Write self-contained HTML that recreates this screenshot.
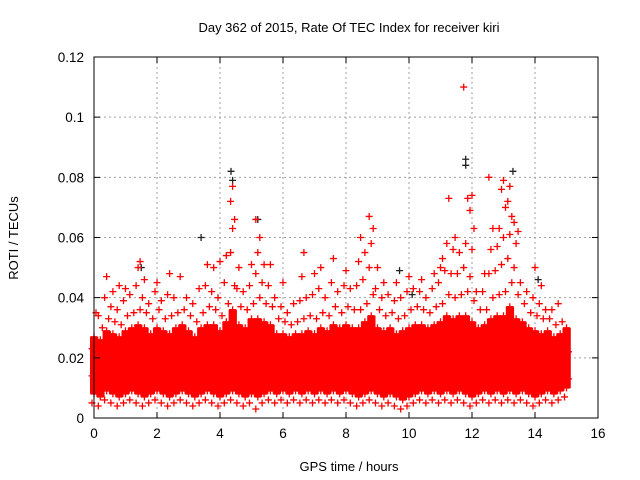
<!DOCTYPE html>
<html><head><meta charset="utf-8"><style>
html,body{margin:0;padding:0;background:#fff}
svg{display:block;font-family:"Liberation Sans",sans-serif}
</style></head><body>
<svg id="chart" width="640" height="480" viewBox="0 0 640 480">
<text x="349" y="32" font-size="13" text-anchor="middle">Day 362 of 2015, Rate Of TEC Index for receiver kiri</text>
<text x="349" y="471" font-size="13" text-anchor="middle">GPS time / hours</text>
<text transform="translate(18,238) rotate(-90)" font-size="13" text-anchor="middle">ROTI / TECUs</text>
<g id="grid"></g><g id="marks"></g><g id="axes"></g>
</svg>
<script>
const binTimes=[0,0.2,0.4,0.6,0.8,1.0,1.2,1.4,1.6,1.8,2.0,2.2,2.4,2.6,2.8,3.0,3.2,3.4,3.6,3.8,4.0,4.2,4.4,4.6,4.8,5.0,5.2,5.4,5.6,5.8,6.0,6.2,6.4,6.6,6.8,7.0,7.2,7.4,7.6,7.8,8.0,8.2,8.4,8.6,8.8,9.0,9.2,9.4,9.6,9.8,10.0,10.2,10.4,10.6,10.8,11.0,11.2,11.4,11.6,11.8,12.0,12.2,12.4,12.6,12.8,13.0,13.2,13.4,13.6,13.8,14.0,14.2,14.4,14.6,14.8,15.0];
const rotiMilli=[
[5,8,11,14,17,20,23,27,35],[4,7,10,13,16,19,22,26,30,34],[6,9,12,15,18,21,25,29,33,40,47],[5,8,11,14,17,20,24,28,32,37,42],
[4,7,10,13,16,19,23,27,31,36,44],[5,8,11,14,17,21,25,29,34,39,43],[6,9,12,15,18,22,26,30,35,41],[5,8,11,14,18,22,26,31,36,44,50,52],
[4,7,10,13,17,21,25,30,35,40,46],[5,8,11,14,17,20,24,28,33,38],[6,9,12,15,18,22,26,30,36,42,45],[5,8,11,14,17,21,25,29,33,39],
[4,7,10,13,16,20,24,28,34,41,48],[5,8,11,14,17,21,25,30,35,40],[6,9,12,15,18,22,26,31,36,47],[5,8,11,14,17,21,25,29,34,40],
[4,7,10,13,16,19,23,27,32,38],[5,8,11,14,17,21,25,30,35,43],[6,9,12,15,18,22,26,31,37,44,51],[5,8,11,14,17,21,26,31,36,42,50],
[4,7,10,13,16,20,24,29,34,40,52],[5,8,11,14,18,22,27,32,38,45,54],[6,9,12,16,20,25,30,36,44,55,63,66,72,77],[5,8,11,14,18,22,26,31,37,43,50],
[4,7,10,13,17,21,25,30,36,42],[5,8,11,15,19,23,28,33,38,44,51],[3,7,10,14,18,22,27,33,40,48,55,60,66],[5,8,11,14,18,22,27,32,38,45,51],
[6,9,12,15,18,22,26,31,37,44,51],[5,8,11,14,17,20,24,28,33,40],[6,9,12,15,18,21,24,28,32,37,45],[5,8,11,14,17,20,23,27,31,35],
[6,9,12,15,18,21,24,28,32,38],[5,8,11,14,17,20,24,28,33,39,47,55],[6,9,12,15,18,21,25,29,34,40],[5,8,11,14,17,20,24,28,33,41,48],
[6,9,12,15,18,22,26,30,35,43,50],[5,8,11,14,17,21,25,29,34,40],[6,9,12,15,18,22,26,31,37,45,53],[5,8,11,14,17,21,25,30,35,42],
[6,9,12,15,18,22,26,31,37,44,49],[5,8,11,14,17,21,25,30,36,43],[4,7,10,13,17,21,25,30,36,44,52,60],[5,8,11,14,18,22,27,32,38,46,55],
[6,9,12,15,19,23,28,34,41,50,58,63,67],[5,8,11,14,17,21,25,30,36,43,50],[4,7,10,13,16,20,24,29,34,40,45],[5,8,11,14,17,21,25,30,35,41],
[4,7,10,13,16,20,24,28,33,39,45],[3,6,9,12,16,20,24,29,34,40],[4,7,10,13,17,21,25,30,36,42,47],[5,8,11,14,18,22,26,31,37,43],
[6,9,12,15,18,22,26,31,36,42,46],[5,8,11,14,17,21,25,30,35,40],[6,9,12,15,18,22,26,31,37,43,48],[5,8,11,14,18,22,27,32,38,45,50,53],
[6,9,12,15,19,23,28,34,41,49,58,73],[5,8,11,14,18,22,27,33,40,48,56,60],[6,9,12,15,19,23,28,34,41,48,55],[5,8,11,14,18,23,28,34,42,50,58,73,110],
[4,7,10,13,17,21,26,32,39,47,56,63,69,74],[5,8,11,14,17,21,25,30,36,42],[6,9,12,15,18,22,26,31,36,42,48],[5,8,11,14,18,22,27,33,40,48,56,63,80],
[6,9,12,15,19,23,28,34,41,49,57,63],[5,8,11,14,18,23,28,34,42,51,60,70,76,79],[6,9,12,15,19,24,30,37,45,53,61,67,72,77],[5,8,11,14,18,22,27,33,41,50,58,62,65],
[6,9,12,15,18,22,27,32,38,45],[5,8,11,14,17,21,25,30,35,42],[4,7,10,13,16,20,24,29,34,40,50],[5,8,11,14,17,20,24,28,33,38,44],
[6,9,12,15,18,21,25,29,33,36],[5,8,11,14,17,20,23,27,31,36],[6,9,12,15,18,21,24,28,32,38],[7,10,13,16,19,22,26,30]
];
const blackTimes=[3.4,4.35,4.4,5.2,9.7,10.1,11.8,11.8,13.3,14.1,0.05,1.5];
const blackRoti=[0.060,0.082,0.079,0.066,0.049,0.041,0.086,0.084,0.082,0.046,0.021,0.050];
const xTicks=[0,2,4,6,8,10,12,14,16];
const yTicks=[0,0.02,0.04,0.06,0.08,0.1,0.12];
const yTickLabels=["0","0.02","0.04","0.06","0.08","0.1","0.12"];

const L=94,R=598,T=57,B=418;
const xs=v=>L+(v-0)/16*(R-L);
const ys=v=>B-(v/0.12)*(B-T);
const NS="http://www.w3.org/2000/svg";
function mk(tag,attrs,parent){const e=document.createElementNS(NS,tag);for(const k in attrs)e.setAttribute(k,attrs[k]);parent.appendChild(e);return e;}
const grid=document.getElementById('grid'),marks=document.getElementById('marks'),axes=document.getElementById('axes');

xTicks.forEach((t,i)=>{
  const x=xs(t);
  if(t>0&&t<16){const g=mk('line',{x1:x,y1:T,x2:x,y2:B,stroke:'#a0a0a0','stroke-dasharray':'2,3'},grid);
  
  }
  const tk=mk('path',{d:`M${x},${B}v-6M${x},${T}v6`,stroke:'#000'},axes);
  
  
  const lb=mk('text',{x:x,y:B+20,'font-size':13.5,'text-anchor':'middle'},axes);lb.textContent=String(t);
  
  
});
yTicks.forEach((t,i)=>{
  const y=ys(t);
  if(t>0&&t<0.12){const g=mk('line',{x1:L,y1:y,x2:R,y2:y,stroke:'#a0a0a0','stroke-dasharray':'2,3'},grid);
  
  }
  const tk=mk('path',{d:`M${L},${y}h6M${R},${y}h-6`,stroke:'#000'},axes);
  
  
  const lb=mk('text',{x:L-10,y:y+5,'font-size':13.5,'text-anchor':'end'},axes);lb.textContent=yTickLabels[i];
  
  
});
const frame=mk('rect',{x:L,y:T,width:R-L,height:B-T,fill:'none',stroke:'#000'},axes);



function cross(x,y,color,name){
  const p=mk('path',{d:`M${x-3.5},${y}h7M${x},${y-3.5}v7`,stroke:color,'stroke-width':1.3},marks);
  
  
}
blackTimes.forEach((t,i)=>cross(xs(t),ys(blackRoti[i]),'#222','black-point'));
// dense core band derived from each bin's lower values
binTimes.forEach((t,i)=>{
  const v=rotiMilli[i];
  const lo=v[1]/1000,hi=v[Math.min(7,v.length-1)]/1000;
  const r=mk('rect',{x:xs(t)-4,y:ys(hi),width:xs(0.2)-xs(0)+2,height:ys(lo)-ys(hi),fill:'#ff0000'},marks);
  
  
});
binTimes.forEach((t,i)=>{
  rotiMilli[i].forEach((m,j)=>{
    const dx=(j%3-1)*2;
    cross(xs(t)+dx,ys(m/1000),'#ff0000','roti-point');
  });
});
</script>
</body></html>
